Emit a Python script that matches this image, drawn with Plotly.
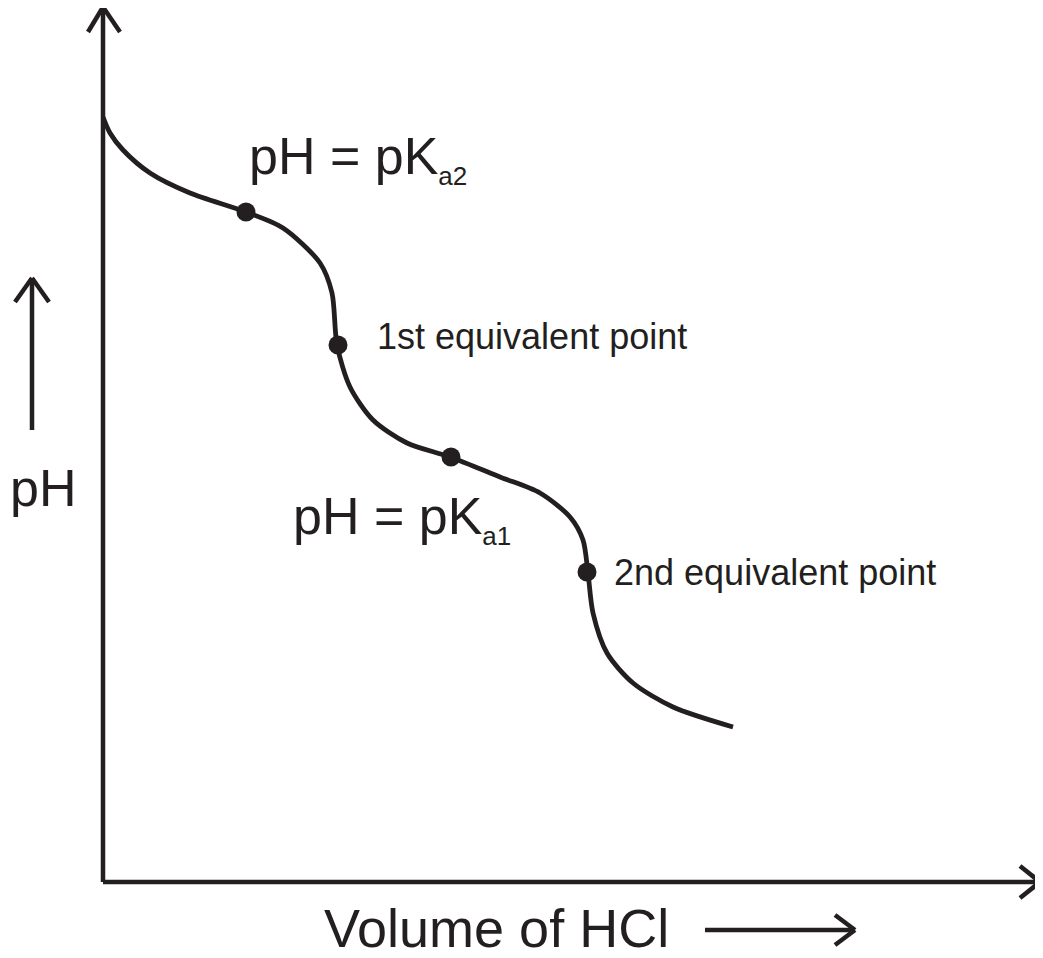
import plotly.graph_objects as go

# curve (arbitrary units: volume of HCl, pH)
volume = [0.0, 0.7, 2.0, 4.7, 8.7, 14.3, 18.0, 21.7, 22.9, 23.4, 24.7, 27.0, 30.4,
          34.7, 39.7, 43.7, 46.7, 48.0, 48.5, 49.0, 50.4, 53.0, 57.0, 63.0]
ph = [76.5, 74.9, 73.2, 70.9, 68.9, 67.0, 65.4, 61.9, 58.9, 53.7, 49.5, 46.2, 43.9,
      42.5, 40.5, 38.9, 36.5, 34.2, 30.9, 26.9, 22.9, 19.9, 17.5, 15.5]

# marked points: pKa2, 1st eq. point, pKa1, 2nd eq. point
point_volume = [14.3, 23.5, 34.8, 48.4]
point_ph = [67.0, 53.7, 42.5, 31.0]

INK = '#231f20'
FONT = 'Liberation Sans, Arial, sans-serif'

fig = go.Figure()
fig.add_trace(go.Scatter(x=volume, y=ph, mode='lines',
                         line=dict(color=INK, width=4.8, shape='spline', smoothing=0.8),
                         hoverinfo='skip'))
fig.add_trace(go.Scatter(x=point_volume, y=point_ph, mode='markers',
                         marker=dict(color=INK, size=19), hoverinfo='skip'))


def arrow(x0, y0, x1, y1, wings):
    # straight shaft plus an open chevron head
    shapes = [dict(type='line', x0=x0, y0=y0, x1=x1, y1=y1, xref='x', yref='y',
                   line=dict(color=INK, width=4.5))]
    for wx, wy in wings:
        shapes.append(dict(type='line', x0=wx, y0=wy, x1=x1, y1=y1, xref='x', yref='y',
                           line=dict(color=INK, width=4.5)))
    return shapes


shapes = []
shapes += arrow(0, 0, 0, 87.5, [(-1.5, 85.0), (1.7, 85.0)])      # pH axis
shapes += arrow(0, 0, 93.7, 0, [(91.7, 1.6), (91.7, -1.6)])      # volume axis
shapes += arrow(-7.1, 45.2, -7.1, 60.4, [(-8.8, 58.0), (-5.4, 58.0)])
shapes += arrow(60.2, -4.8, 75.2, -4.8, [(73.2, -3.3), (73.2, -6.3)])

annotations = [
    dict(x=14.4, y=72.3, text="pH = pK<sub><span style='font-size:26px'>a2</span></sub>",
         font=dict(family=FONT, size=52, color=INK)),
    dict(x=27.2, y=54.6, text='1st equivalent point',
         font=dict(family=FONT, size=36, color=INK)),
    dict(x=18.8, y=36.3, text="pH = pK<sub><span style='font-size:26px'>a1</span></sub>",
         font=dict(family=FONT, size=52, color=INK)),
    dict(x=50.9, y=31.0, text='2nd equivalent point',
         font=dict(family=FONT, size=36, color=INK)),
    dict(x=-9.5, y=39.4, text='pH', font=dict(family=FONT, size=52, color=INK)),
    dict(x=21.9, y=-4.6, text='Volume of HCl', font=dict(family=FONT, size=54, color=INK)),
]
for a in annotations:
    a.update(xref='x', yref='y', xanchor='left', yanchor='middle', showarrow=False)

fig.update_layout(
    width=1043, height=958,
    margin=dict(l=0, r=0, t=0, b=0),
    paper_bgcolor='white', plot_bgcolor='white',
    showlegend=False,
    shapes=shapes,
    annotations=annotations,
)
# ranges offset by the page's 8px body margin
fig.update_xaxes(range=[-9.5, 94.8], visible=False, fixedrange=True)
fig.update_yaxes(range=[-8.4, 87.4], visible=False, fixedrange=True)

fig.write_html('out.html', config={'displayModeBar': False})
